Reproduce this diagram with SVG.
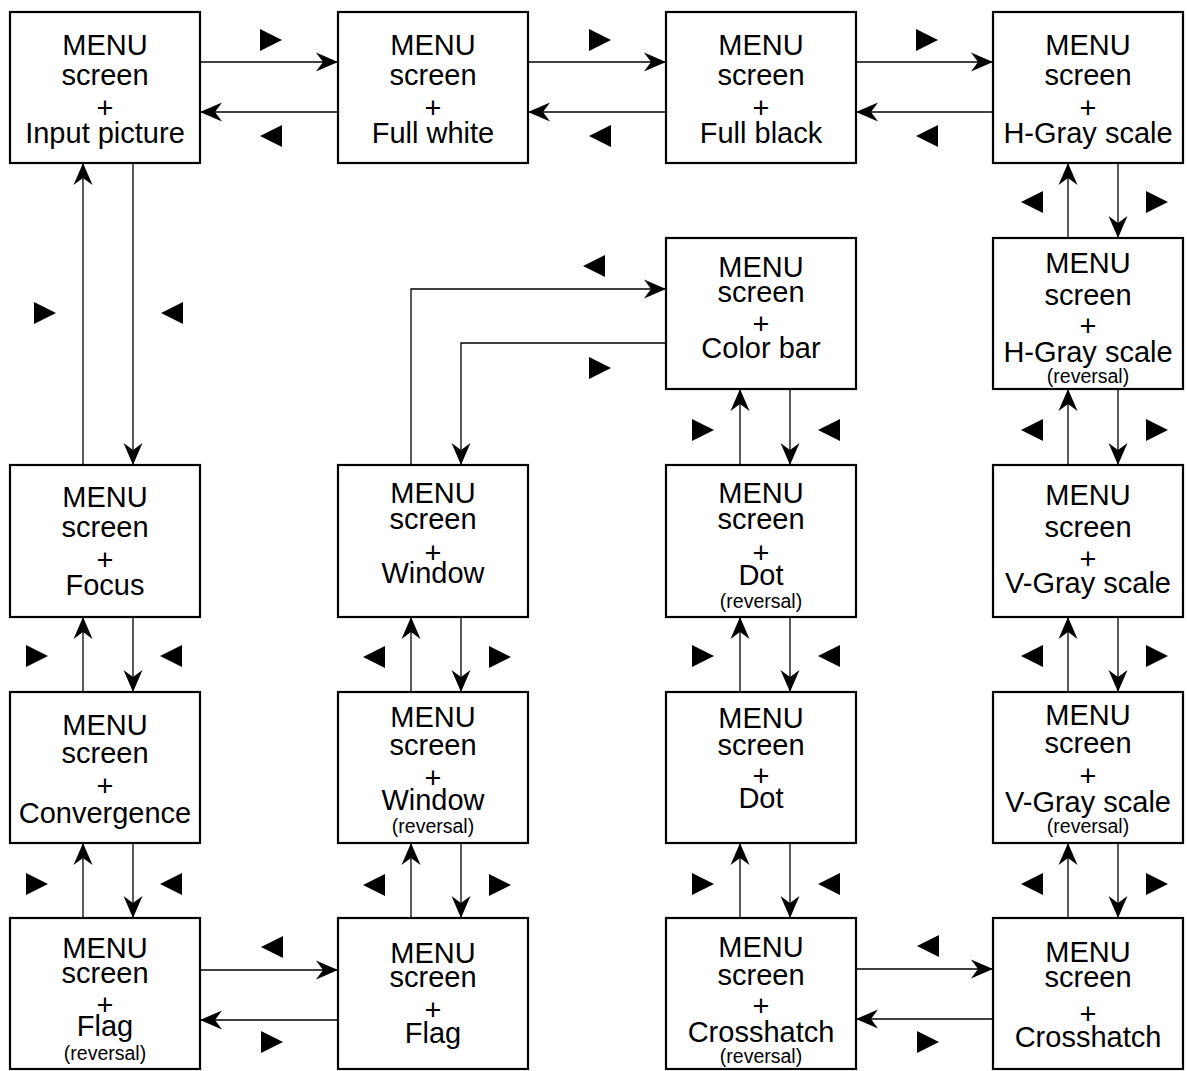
<svg xmlns="http://www.w3.org/2000/svg" xmlns:xlink="http://www.w3.org/1999/xlink" width="1187" height="1071" viewBox="0 0 1187 1071">
<style>
.box{fill:#fff;stroke:#000;stroke-width:2.2}
.t{font-family:"Liberation Sans",Arial,sans-serif;font-size:29px;fill:#000;text-anchor:middle}
.s{font-family:"Liberation Sans",Arial,sans-serif;font-size:19.5px;fill:#000;text-anchor:middle}
.c{fill:none;stroke:#000;stroke-width:1.3;marker-end:url(#ah)}
.tri{fill:#000}
</style>
<defs>
<marker id="ah" markerUnits="userSpaceOnUse" markerWidth="24" markerHeight="20" refX="22" refY="10" orient="auto" overflow="visible">
<path d="M0,0.5 L22,10 L0,19.5 L7,10 Z" fill="#000"/>
</marker>
<polygon id="tr" points="-11,-11 11,0 -11,11"/>
<polygon id="tl" points="11,-11 -11,0 11,11"/>
</defs>
<rect width="1187" height="1071" fill="#fff"/>

<g id="connectors">
<!-- row 1 horizontals -->
<path class="c" d="M200,62 H338"/>
<path class="c" d="M338,112 H200"/>
<path class="c" d="M528,62 H666"/>
<path class="c" d="M666,112 H528"/>
<path class="c" d="M856,62 H993"/>
<path class="c" d="M993,112 H856"/>
<!-- col 1 verticals -->
<path class="c" d="M83,465 V163"/>
<path class="c" d="M133,163 V465"/>
<path class="c" d="M83,692 V617"/>
<path class="c" d="M133,617 V692"/>
<path class="c" d="M83,918 V843"/>
<path class="c" d="M133,843 V918"/>
<!-- col 2 -->
<path class="c" d="M411,465 V289 H666"/>
<path class="c" d="M666,343 H461 V465"/>
<path class="c" d="M411,692 V617"/>
<path class="c" d="M461,617 V692"/>
<path class="c" d="M411,918 V843"/>
<path class="c" d="M461,843 V918"/>
<!-- col 3 -->
<path class="c" d="M740,465 V389"/>
<path class="c" d="M790,389 V465"/>
<path class="c" d="M740,692 V617"/>
<path class="c" d="M790,617 V692"/>
<path class="c" d="M740,918 V843"/>
<path class="c" d="M790,843 V918"/>
<!-- col 4 -->
<path class="c" d="M1068,238 V163"/>
<path class="c" d="M1118,163 V238"/>
<path class="c" d="M1068,465 V389"/>
<path class="c" d="M1118,389 V465"/>
<path class="c" d="M1068,692 V617"/>
<path class="c" d="M1118,617 V692"/>
<path class="c" d="M1068,918 V843"/>
<path class="c" d="M1118,843 V918"/>
<!-- bottom row horizontals -->
<path class="c" d="M200,970 H338"/>
<path class="c" d="M338,1020 H200"/>
<path class="c" d="M856,969 H993"/>
<path class="c" d="M993,1019 H856"/>

<!-- direction triangles -->
<g class="tri">
<use xlink:href="#tr" x="271" y="40"/>
<use xlink:href="#tl" x="271" y="136"/>
<use xlink:href="#tr" x="600" y="40"/>
<use xlink:href="#tl" x="600" y="136"/>
<use xlink:href="#tr" x="927" y="40"/>
<use xlink:href="#tl" x="927" y="136"/>

<use xlink:href="#tr" x="45" y="313"/>
<use xlink:href="#tl" x="172" y="313"/>
<use xlink:href="#tr" x="37" y="656"/>
<use xlink:href="#tl" x="171" y="656"/>
<use xlink:href="#tr" x="37" y="884"/>
<use xlink:href="#tl" x="171" y="884"/>

<use xlink:href="#tl" x="594" y="266"/>
<use xlink:href="#tr" x="600" y="368"/>
<use xlink:href="#tl" x="374" y="657"/>
<use xlink:href="#tr" x="500" y="657"/>
<use xlink:href="#tl" x="374" y="885"/>
<use xlink:href="#tr" x="500" y="885"/>

<use xlink:href="#tr" x="703" y="430"/>
<use xlink:href="#tl" x="829" y="430"/>
<use xlink:href="#tr" x="703" y="656"/>
<use xlink:href="#tl" x="829" y="656"/>
<use xlink:href="#tr" x="703" y="884"/>
<use xlink:href="#tl" x="829" y="884"/>

<use xlink:href="#tl" x="1032" y="202"/>
<use xlink:href="#tr" x="1157" y="202"/>
<use xlink:href="#tl" x="1032" y="430"/>
<use xlink:href="#tr" x="1157" y="430"/>
<use xlink:href="#tl" x="1032" y="656"/>
<use xlink:href="#tr" x="1157" y="656"/>
<use xlink:href="#tl" x="1032" y="884"/>
<use xlink:href="#tr" x="1157" y="884"/>

<use xlink:href="#tl" x="272" y="947"/>
<use xlink:href="#tr" x="272" y="1042"/>
<use xlink:href="#tl" x="928" y="946"/>
<use xlink:href="#tr" x="928" y="1042"/>
</g>
</g>

<g id="n-input">
<rect class="box" x="10" y="12" width="190" height="151"/>
<text class="t" x="105" y="55">MENU</text><text class="t" x="105" y="85">screen</text><text class="t" x="105" y="118">+</text><text class="t" x="105" y="143">Input picture</text>
</g>
<g id="n-fullwhite">
<rect class="box" x="338" y="12" width="190" height="151"/>
<text class="t" x="433" y="55">MENU</text><text class="t" x="433" y="85">screen</text><text class="t" x="433" y="118">+</text><text class="t" x="433" y="143">Full white</text>
</g>
<g id="n-fullblack">
<rect class="box" x="666" y="12" width="190" height="151"/>
<text class="t" x="761" y="55">MENU</text><text class="t" x="761" y="85">screen</text><text class="t" x="761" y="118">+</text><text class="t" x="761" y="143">Full black</text>
</g>
<g id="n-hgray">
<rect class="box" x="993" y="12" width="190" height="151"/>
<text class="t" x="1088" y="55">MENU</text><text class="t" x="1088" y="85">screen</text><text class="t" x="1088" y="118">+</text><text class="t" x="1088" y="143">H-Gray scale</text>
</g>
<g id="n-hgray-rev">
<rect class="box" x="993" y="238" width="190" height="151"/>
<text class="t" x="1088" y="273">MENU</text><text class="t" x="1088" y="305">screen</text><text class="t" x="1088" y="336">+</text><text class="t" x="1088" y="362">H-Gray scale</text><text class="s" x="1088" y="383">(reversal)</text>
</g>
<g id="n-colorbar">
<rect class="box" x="666" y="238" width="190" height="151"/>
<text class="t" x="761" y="277">MENU</text><text class="t" x="761" y="302">screen</text><text class="t" x="761" y="334">+</text><text class="t" x="761" y="358">Color bar</text>
</g>
<g id="n-focus">
<rect class="box" x="10" y="465" width="190" height="152"/>
<text class="t" x="105" y="507">MENU</text><text class="t" x="105" y="537">screen</text><text class="t" x="105" y="570">+</text><text class="t" x="105" y="595">Focus</text>
</g>
<g id="n-window">
<rect class="box" x="338" y="465" width="190" height="152"/>
<text class="t" x="433" y="503">MENU</text><text class="t" x="433" y="529">screen</text><text class="t" x="433" y="563">+</text><text class="t" x="433" y="583">Window</text>
</g>
<g id="n-dot-rev">
<rect class="box" x="666" y="465" width="190" height="152"/>
<text class="t" x="761" y="503">MENU</text><text class="t" x="761" y="529">screen</text><text class="t" x="761" y="563">+</text><text class="t" x="761" y="585">Dot</text><text class="s" x="761" y="608">(reversal)</text>
</g>
<g id="n-vgray">
<rect class="box" x="993" y="465" width="190" height="152"/>
<text class="t" x="1088" y="505">MENU</text><text class="t" x="1088" y="537">screen</text><text class="t" x="1088" y="569">+</text><text class="t" x="1088" y="593">V-Gray scale</text>
</g>
<g id="n-convergence">
<rect class="box" x="10" y="692" width="190" height="151"/>
<text class="t" x="105" y="735">MENU</text><text class="t" x="105" y="763">screen</text><text class="t" x="105" y="796">+</text><text class="t" x="105" y="823">Convergence</text>
</g>
<g id="n-window-rev">
<rect class="box" x="338" y="692" width="190" height="151"/>
<text class="t" x="433" y="727">MENU</text><text class="t" x="433" y="755">screen</text><text class="t" x="433" y="788">+</text><text class="t" x="433" y="810">Window</text><text class="s" x="433" y="833">(reversal)</text>
</g>
<g id="n-dot">
<rect class="box" x="666" y="692" width="190" height="151"/>
<text class="t" x="761" y="728">MENU</text><text class="t" x="761" y="755">screen</text><text class="t" x="761" y="786">+</text><text class="t" x="761" y="808">Dot</text>
</g>
<g id="n-vgray-rev">
<rect class="box" x="993" y="692" width="190" height="151"/>
<text class="t" x="1088" y="725">MENU</text><text class="t" x="1088" y="753">screen</text><text class="t" x="1088" y="786">+</text><text class="t" x="1088" y="812">V-Gray scale</text><text class="s" x="1088" y="833">(reversal)</text>
</g>
<g id="n-flag-rev">
<rect class="box" x="10" y="918" width="190" height="151"/>
<text class="t" x="105" y="958">MENU</text><text class="t" x="105" y="983">screen</text><text class="t" x="105" y="1015">+</text><text class="t" x="105" y="1036">Flag</text><text class="s" x="105" y="1060">(reversal)</text>
</g>
<g id="n-flag">
<rect class="box" x="338" y="918" width="190" height="151"/>
<text class="t" x="433" y="963">MENU</text><text class="t" x="433" y="987">screen</text><text class="t" x="433" y="1020">+</text><text class="t" x="433" y="1043">Flag</text>
</g>
<g id="n-crosshatch-rev">
<rect class="box" x="666" y="918" width="190" height="151"/>
<text class="t" x="761" y="957">MENU</text><text class="t" x="761" y="985">screen</text><text class="t" x="761" y="1016">+</text><text class="t" x="761" y="1042">Crosshatch</text><text class="s" x="761" y="1063">(reversal)</text>
</g>
<g id="n-crosshatch">
<rect class="box" x="993" y="918" width="190" height="151"/>
<text class="t" x="1088" y="962">MENU</text><text class="t" x="1088" y="987">screen</text><text class="t" x="1088" y="1024">+</text><text class="t" x="1088" y="1047">Crosshatch</text>
</g>
</svg>
